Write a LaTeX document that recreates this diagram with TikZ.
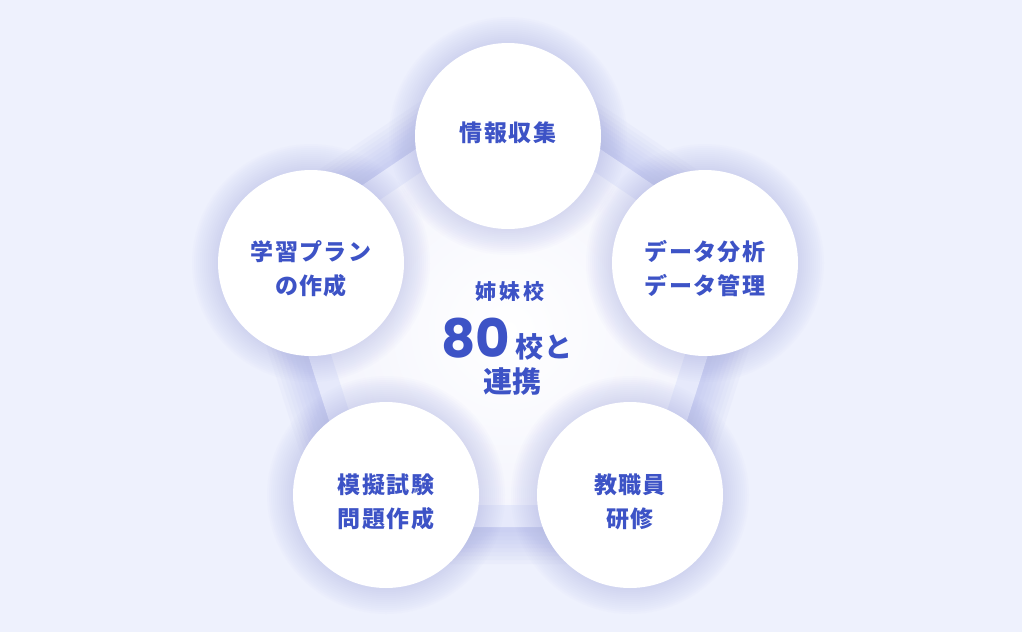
\documentclass[tikz,border=0pt]{standalone}
\usepackage{fontspec}
\newfontfamily\jp{Noto Sans CJK JP}[LetterSpace=6]
\newfontfamily\jpc{Noto Sans CJK JP}[LetterSpace=16]
\newfontfamily\jpn{Noto Sans CJK JP}
\newfontfamily\pop{Poppins}
\definecolor{bgcol}{HTML}{EEF1FD}
\definecolor{glowcol}{HTML}{9DA3E6}
\definecolor{pentglow}{HTML}{A4AAE8}
\definecolor{pentedge}{HTML}{F1F2FC}
\definecolor{bandcol}{HTML}{E6E9FB}
\definecolor{txtcol}{HTML}{3D53C6}
\tikzset{
  circnode/.style={circle, fill=white, minimum size=186pt, inner sep=0pt},
  circtext/.style={align=center, inner sep=0pt, text=txtcol,
    font=\jp\bfseries\fontsize{23pt}{34pt}\selectfont},
  centertext/.style={text=txtcol, inner sep=0pt}
}
\begin{document}
\begin{tikzpicture}[x=1pt,y=-1pt]
\useasboundingbox (0,0) rectangle (1022,632);
\fill[bgcol] (0,0) rectangle (1022,632);
% pentagon vertices
\coordinate (pT) at (508,100);
\coordinate (pUL) at (286,250);
\coordinate (pUR) at (730,250);
\coordinate (pLL) at (371,516);
\coordinate (pLR) at (645,516);
% pentagon glow
\foreach \w in {96,88,...,28}{
  \draw[pentglow, line width=\w pt, line join=round, opacity=0.06]
    (pT) -- (pUR) -- (pLR) -- (pLL) -- (pUL) -- cycle;
}
\begin{scope}
  \clip (pT) -- (pUR) -- (pLR) -- (pLL) -- (pUL) -- cycle;
  \shade[inner color=white, outer color=pentedge] (508,330) circle[radius=230pt];
\end{scope}
\draw[bandcol, line width=22pt, line join=round]
  (pT) -- (pUR) -- (pLR) -- (pLL) -- (pUL) -- cycle;
% circle centres
\coordinate (cT) at (508,136);
\coordinate (cUL) at (311,263);
\coordinate (cUR) at (705,263);
\coordinate (cLL) at (386,495);
\coordinate (cLR) at (630,495);
% circle glows
\foreach \c in {cT,cUL,cUR,cLL,cLR}{
  \foreach \k in {1,...,13}{
    \fill[glowcol, opacity=0.028] (\c) circle[radius={93pt+\k*2pt}];
  }
}
% circles
\node[circnode] (nT) at (cT) {};
\node[circnode] (nUL) at (cUL) {};
\node[circnode] (nUR) at (cUR) {};
\node[circnode] (nLL) at (cLL) {};
\node[circnode] (nLR) at (cLR) {};
% circle texts
\node[circtext] (xT) at (508,133) {情報収集};
\node[circtext] (xUL) at (311,269) {学習プラン\\の作成};
\node[circtext] (xUR) at (705,269) {データ分析\\データ管理};
\node[circtext] (xLL) at (386,501.5) {模擬試験\\問題作成};
\node[circtext] (xLR) at (630,501.5) {教職員\\研修};
% centre text
\node[centertext, font=\jpc\bfseries\fontsize{21pt}{24pt}\selectfont] (t1) at (510,292) {姉妹校};
\node[centertext, anchor=base] (t2) at (507,392)
  {\vbox{\baselineskip=35pt \lineskiplimit=-100pt \lineskip=0pt
     \hbox to 150pt{\hss{\pop\bfseries\fontsize{53pt}{60pt}\selectfont 80}\hspace{5pt}{\jp\bfseries\fontsize{28pt}{30pt}\selectfont 校と}\hss}
     \hbox to 150pt{\hss\hspace*{10pt}{\jpn\bfseries\fontsize{29pt}{30pt}\selectfont 連携}\hss}}};
\end{tikzpicture}
\end{document}
